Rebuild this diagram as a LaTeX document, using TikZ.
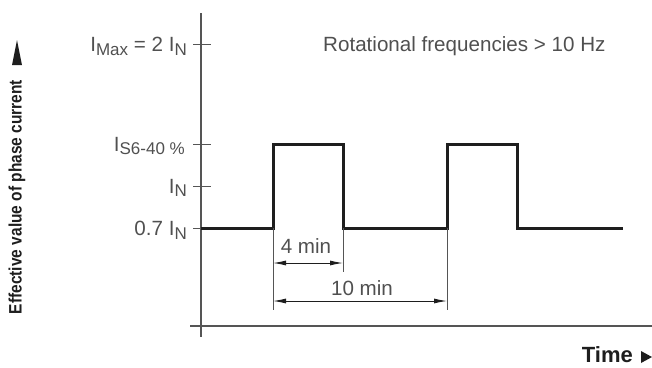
\documentclass[tikz,border=0pt]{standalone}
\usepackage{fontspec}
\setmainfont{Liberation Sans}
\usetikzlibrary{arrows.meta}
\definecolor{txt}{HTML}{505050}
\definecolor{axis}{HTML}{555555}
\definecolor{wave}{HTML}{1E1E1E}
\newcommand{\lowsub}[1]{\raisebox{-0.35ex}{\fontsize{17}{17}\selectfont #1}}
\begin{document}
\begin{tikzpicture}[x=1pt,y=-1pt,
  lbl/.style={text=txt,font=\fontsize{20.6}{22}\selectfont,inner sep=0pt},
  bold/.style={text=wave,font=\fontsize{18}{20}\selectfont\bfseries,inner sep=0pt},
  axisline/.style={draw=axis,line width=1.4pt},
  tick/.style={draw=axis,line width=1pt},
  thin/.style={draw=axis,line width=0.8pt},
  wavel/.style={draw=wave,line width=3pt,line join=miter},
  dim/.style={draw=wave,line width=0.9pt,{Latex[length=13pt,width=5pt]}-{Latex[length=13pt,width=5pt]}}]
\useasboundingbox (0,0) rectangle (652,367);
% axes
\coordinate (ytop) at (201,13);
\coordinate (ybot) at (201,337);
\coordinate (xl) at (190,326);
\coordinate (xr) at (652,326);
\draw[axisline] (ytop) -- (ybot);
\draw[axisline] (xl) -- (xr);
% ticks
\foreach \yy/\nm in {44/tmax,144/ts6,186/tn,228/tlow}{
  \coordinate (\nm) at (201,\yy);
  \draw[tick] (193,\yy) -- (211,\yy);
}
\node[lbl,anchor=east] (lmax) at (187,46) {I\lowsub{Max} = 2 I\lowsub{N}};
\node[lbl,anchor=east] (ls6) at (185,146) {I\lowsub{S6-40 \%}};
\node[lbl,anchor=east] (ln) at (187,188) {I\lowsub{N}};
\node[lbl,anchor=east] (llow) at (187,230) {0.7 I\lowsub{N}};
% waveform
\coordinate (w0) at (201,228);
\coordinate (r1) at (273,228);
\coordinate (f1) at (343,228);
\coordinate (r2) at (447,228);
\coordinate (f2) at (517,228);
\coordinate (wend) at (623,228);
\draw[wavel] (w0) -- (r1) -- (273,144) -- (343,144) -- (f1) -- (r2) -- (447,144) -- (517,144) -- (f2) -- (wend);
% extension lines
\coordinate (e1) at (273,310);
\coordinate (e2) at (343,272);
\coordinate (e3) at (447,310);
\draw[thin] (r1) -- (e1);
\draw[thin] (f1) -- (e2);
\draw[thin] (r2) -- (e3);
% dimensions
\coordinate (d1a) at (273,263);
\coordinate (d1b) at (343,263);
\coordinate (d2a) at (273,301);
\coordinate (d2b) at (447,301);
\draw[dim] (d1a) -- (d1b);
\draw[dim] (d2a) -- (d2b);
\node[lbl] (four) at (306,246) {4 min};
\node[lbl] (ten) at (362,288) {10 min};
% note
\node[lbl,anchor=west] (note) at (323,46) {Rotational frequencies > 10 Hz};
% axis labels
\node[bold,rotate=90,xscale=0.86] (ylab) at (17,197) {Effective value of phase current};
\fill[wave] (12,65) -- (22,65) -- (17,40) -- cycle;
\node[bold,anchor=east,font=\fontsize{22}{24}\selectfont\bfseries] (xlab) at (633,355) {Time};
\fill[wave] (641,351) -- (641,363) -- (652,357) -- cycle;
\end{tikzpicture}
\end{document}
